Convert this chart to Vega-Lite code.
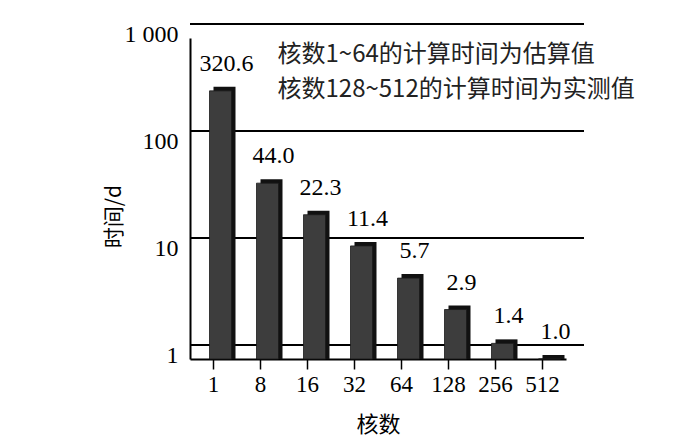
{
  "$schema": "https://vega.github.io/schema/vega-lite/v6.json",
  "autosize": {"type": "none"},
  "width": 376,
  "height": 321,
  "padding": {"left": 190, "top": 38, "right": 134, "bottom": 89},
  "background": "white",
  "config": {"view": {"stroke": null}},
  "datasets": {
    "bars": [
      {"cores": "1", "time": 320.6, "label": "320.6"},
      {"cores": "8", "time": 44.0, "label": "44.0"},
      {"cores": "16", "time": 22.3, "label": "22.3"},
      {"cores": "32", "time": 11.4, "label": "11.4"},
      {"cores": "64", "time": 5.7, "label": "5.7"},
      {"cores": "128", "time": 2.9, "label": "2.9"},
      {"cores": "256", "time": 1.4, "label": "1.4"},
      {"cores": "512", "time": 1.0, "label": "1.0"}
    ],
    "grid": [{"v": 1}, {"v": 10}, {"v": 100}, {"v": 1000}],
    "notes": [
      {"cores": "8", "y": 700, "note": "核数1~64的计算时间为估算值"},
      {"cores": "8", "y": 330, "note": "核数128~512的计算时间为实测值"}
    ]
  },
  "layer": [
    {
      "data": {"name": "grid"},
      "mark": {"type": "rule", "color": "black", "strokeWidth": 2, "xOffset": 18, "yOffset": -14},
      "encoding": {
        "y": {"field": "v", "type": "quantitative", "scale": {"type": "log", "domain": [1, 1000]}}
      }
    },
    {
      "data": {"name": "bars"},
      "mark": {"type": "bar", "color": "#111111", "size": 22, "xOffset": 11, "yOffset": -4},
      "encoding": {
        "x": {"field": "cores", "type": "nominal", "sort": null},
        "y": {"field": "time", "type": "quantitative", "scale": {"type": "log", "domain": [1, 1000]}},
        "y2": {"datum": 1}
      }
    },
    {
      "data": {"name": "bars"},
      "mark": {"type": "bar", "color": "#3d3d3d", "stroke": "#1a1a1a", "strokeWidth": 0.8, "size": 22, "xOffset": 7},
      "encoding": {
        "x": {
          "field": "cores", "type": "nominal", "sort": null,
          "scale": {"paddingInner": 0, "paddingOuter": 0},
          "axis": {
            "title": "核数", "titleFont": "Noto Sans CJK SC", "titleFontSize": 22, "titleFontWeight": "normal",
            "titleColor": "black", "titleY": 55,
            "labelAngle": 0, "labelFont": "Liberation Serif, Times New Roman, serif", "labelFontSize": 23, "labelColor": "black",
            "labelAlign": "center", "bandPosition": 0.5, "labelOverlap": false, "labelFlush": false,
            "labelPadding": 15, "tickSize": 10, "tickColor": "black", "tickWidth": 1.5,
            "domainColor": "black", "domainWidth": 2
          }
        },
        "y": {
          "field": "time", "type": "quantitative",
          "scale": {"type": "log", "domain": [1, 1000]},
          "axis": {
            "values": [1, 10, 100, 1000],
            "labelExpr": "datum.value >= 1000 ? '1 000' : format(datum.value, 'd')",
            "title": "时间/d", "titleFont": "Noto Sans CJK SC", "titleFontSize": 21, "titleFontWeight": "normal",
            "titleColor": "black", "titleX": -66, "titleY": 178,
            "labelFont": "Liberation Serif, Times New Roman, serif", "labelFontSize": 24, "labelColor": "black", "labelPadding": 12,
            "labelFlush": false, "labelOverlap": false, "labelOffset": -4,
            "ticks": false, "grid": false, "domainColor": "black", "domainWidth": 2
          }
        },
        "y2": {"datum": 1}
      }
    },
    {
      "data": {"name": "bars"},
      "mark": {"type": "text", "font": "Liberation Serif, Times New Roman, serif", "fontSize": 24, "color": "black", "baseline": "bottom", "dx": 13, "dy": -15},
      "encoding": {
        "x": {"field": "cores", "type": "nominal", "sort": null},
        "y": {"field": "time", "type": "quantitative", "scale": {"type": "log", "domain": [1, 1000]}},
        "text": {"field": "label"}
      }
    },
    {
      "data": {"name": "notes"},
      "mark": {"type": "text", "font": "Noto Sans CJK SC", "fontSize": 24, "color": "#222", "align": "left", "baseline": "middle", "dx": 17},
      "encoding": {
        "x": {"field": "cores", "type": "nominal", "sort": null},
        "y": {"field": "y", "type": "quantitative", "scale": {"type": "log", "domain": [1, 1000]}},
        "text": {"field": "note"}
      }
    }
  ]
}
